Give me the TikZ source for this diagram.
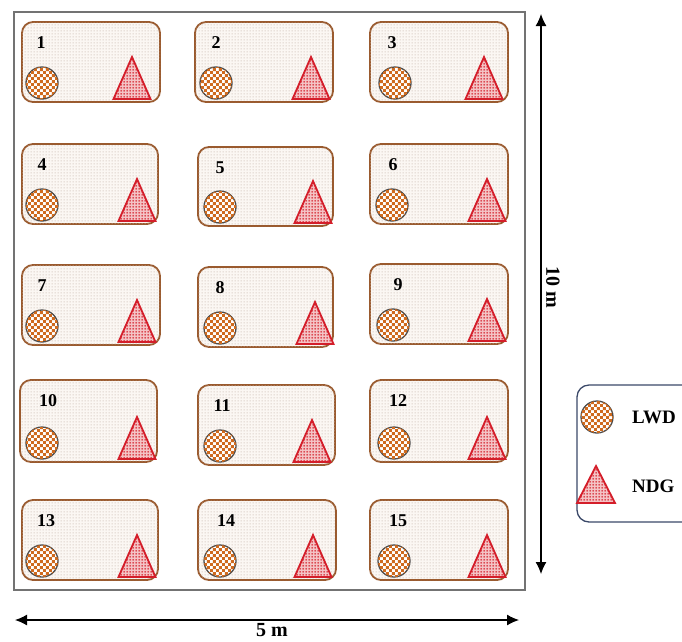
\documentclass[tikz,border=0pt]{standalone}
\usepackage{fontspec}
\setmainfont{Liberation Serif}
\usetikzlibrary{patterns,arrows.meta}
\pgfdeclarepatternformonly{bgdots}{\pgfpointorigin}{\pgfqpoint{3pt}{3pt}}{\pgfqpoint{3pt}{3pt}}{\pgfpathcircle{\pgfqpoint{1.5pt}{1.5pt}}{0.8pt}\pgfusepath{fill}}
\pgfdeclarepatternformonly{bigchecker}{\pgfpointorigin}{\pgfqpoint{6.4pt}{6.4pt}}{\pgfqpoint{6.4pt}{6.4pt}}{\pgfpathrectangle{\pgfqpoint{0pt}{0pt}}{\pgfqpoint{3.2pt}{3.2pt}}\pgfpathrectangle{\pgfqpoint{3.2pt}{3.2pt}}{\pgfqpoint{3.2pt}{3.2pt}}\pgfusepath{fill}}
\pgfdeclarepatternformonly{finedots}{\pgfpointorigin}{\pgfqpoint{2.6pt}{2.6pt}}{\pgfqpoint{2.6pt}{2.6pt}}{\pgfpathcircle{\pgfqpoint{1.3pt}{1.3pt}}{1.0pt}\pgfusepath{fill}}
\definecolor{plotborder}{HTML}{9A5A2E}
\definecolor{plotfill}{HTML}{FBF7F3}
\definecolor{plotdot}{HTML}{C9BAB0}
\definecolor{lwd}{HTML}{CF6A1E}
\definecolor{ndg}{HTML}{D41E2A}
\definecolor{ndgfill}{HTML}{F4C4C6}
\definecolor{legborder}{HTML}{3A4868}
\tikzset{
  plotbox/.style={draw=plotborder, line width=1.8pt, rounded corners=11pt,
    preaction={fill=plotfill}, postaction={pattern=bgdots, pattern color=plotdot}},
  lwdsym/.style={draw=black!70, line width=1.3pt, preaction={fill=white},
    postaction={pattern=bigchecker, pattern color=lwd}},
  ndgsym/.style={draw=ndg, line width=1.8pt, line join=miter, preaction={fill=ndgfill},
    postaction={pattern=finedots, pattern color=ndg}},
  plotnum/.style={font=\fontsize{18}{18}\selectfont\bfseries, inner sep=0pt},
  legtext/.style={font=\fontsize{19}{19}\selectfont\bfseries, inner sep=0pt, anchor=west},
  dimtext/.style={font=\fontsize{20}{20}\selectfont\bfseries, inner sep=0pt},
  dimarrow/.style={line width=1.2pt, {Latex[length=12pt,width=11pt]}-{Latex[length=12pt,width=11pt]}}
}
\begin{document}
\begin{tikzpicture}[x=1pt,y=-1pt]
\useasboundingbox (0,0) rectangle (682,641);
\clip (0,0) rectangle (682,641);
% outer frame
\draw[black!55, line width=1.2pt] (14,12) rectangle (525,590);
% plots
\foreach \n/\xa/\ya/\xb/\yb/\lx/\cx/\tx in {
 1/22/22/160/102/41/42/132,
 2/195/22/333/102/216/216/311,
 3/370/22/508/102/392/395/484,
 4/22/144/158/224/42/42/137,
 5/198/147/333/226/220/220/313,
 6/370/144/508/224/393/392/487,
 7/22/265/160/345/42/42/137,
 8/198/267/333/347/220/220/315,
 9/370/264/508/344/398/393/487,
 10/20/380/157/462/48/42/137,
 11/198/385/335/465/222/220/312,
 12/370/380/508/462/398/394/487,
 13/22/500/158/580/46/42/137,
 14/198/500/336/580/226/220/313,
 15/370/500/508/580/398/394/487}{
  \draw[plotbox] (\xa,\ya) rectangle (\xb,\yb);
  \node[plotnum] (num\n) at (\lx,\ya+21) {\n};
  \draw[lwdsym] (\cx,\yb-19) circle (16pt);
  \draw[ndgsym] (\tx,\yb-45) -- (\tx+18.5,\yb-3) -- (\tx-18.5,\yb-3) -- cycle;
}
% dimension arrows
\coordinate (vtop) at (541,14);
\coordinate (vbot) at (541,574);
\draw[dimarrow] (vtop) -- (vbot);
\node[dimtext, rotate=-90] (tenm) at (553,287) {10 m};
\coordinate (hleft) at (15,620);
\coordinate (hright) at (519,620);
\draw[dimarrow] (hleft) -- (hright);
\node[dimtext] (fivem) at (272,630) {5 m};
% legend
\draw[legborder, line width=1.3pt, rounded corners=12pt] (577,385) rectangle (700,522);
\draw[lwdsym] (597,417) circle (16pt);
\node[legtext] (lwdlab) at (632,417) {LWD};
\draw[ndgsym] (596,466) -- (615,503) -- (577,503) -- cycle;
\node[legtext] (ndglab) at (632,486) {NDG};
\end{tikzpicture}
\end{document}
